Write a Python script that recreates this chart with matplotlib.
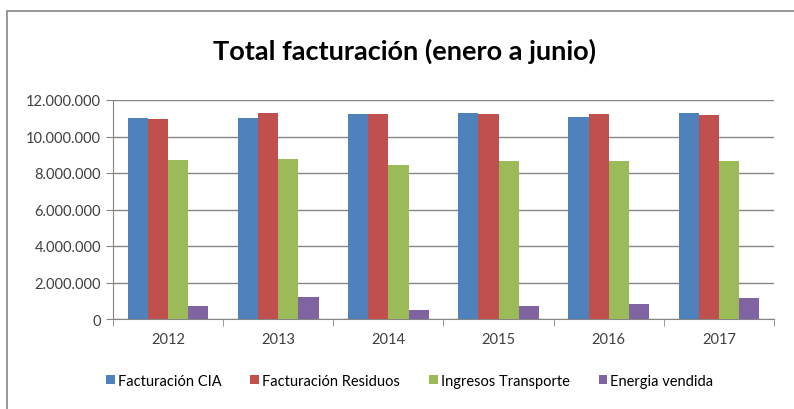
import numpy as np
import matplotlib
matplotlib.use("Agg")
import matplotlib.pyplot as plt
from matplotlib.ticker import FuncFormatter
from matplotlib.patches import Rectangle

# data
years = ["2012", "2013", "2014", "2015", "2016", "2017"]
facturacion_cia = [11030000, 11030000, 11250000, 11300000, 11090000, 11300000]
facturacion_residuos = [10960000, 11300000, 11250000, 11250000, 11250000, 11180000]
ingresos_transporte = [8710000, 8780000, 8420000, 8640000, 8640000, 8640000]
energia_vendida = [710000, 1190000, 490000, 690000, 840000, 1130000]

series = [
    ("Facturación CIA", facturacion_cia, "#4F81BD"),
    ("Facturación Residuos", facturacion_residuos, "#C0504D"),
    ("Ingresos Transporte", ingresos_transporte, "#9BBB59"),
    ("Energia vendida", energia_vendida, "#8064A2"),
]

plt.rcParams['font.family'] = ['Lato', 'DejaVu Sans']

fig = plt.figure(figsize=(7.94, 4.10), dpi=100)
# outer chart frame
fig.patches.append(Rectangle((7 / 794, -0.01), 1.0, 1 - 12 / 410 + 0.01,
                             transform=fig.transFigure, fill=False,
                             edgecolor="#868686", linewidth=1.2))

ax = fig.add_axes([113 / 794, 1 - 320 / 410, (774 - 113) / 794, (320 - 101) / 410])

x = np.arange(len(years))
bw = 0.183
for i, (name, vals, col) in enumerate(series):
    ax.bar(x + (i - 1.5) * bw, vals, bw, color=col, label=name, zorder=3)

ax.set_xlim(-0.5, len(years) - 0.5)
ax.set_ylim(0, 12000000)
ax.set_yticks(np.arange(0, 12000001, 2000000))
ax.yaxis.set_major_formatter(FuncFormatter(lambda v, p: f"{int(v):,}".replace(",", ".")))
ax.set_xticks(x)
ax.set_xticklabels(years)
ax.set_xticks(np.arange(-0.5, len(years)), minor=True)
ax.tick_params(axis="x", which="major", length=0, pad=9, labelsize=10.5, colors="#404040")
ax.tick_params(axis="x", which="minor", length=5, color="#868686")
ax.tick_params(axis="y", length=5, color="#868686", labelsize=10.5, labelcolor="#404040")
ax.grid(axis="y", color="#868686", linewidth=1, zorder=0)
for s in ["top", "right"]:
    ax.spines[s].set_visible(False)
for s in ["left", "bottom"]:
    ax.spines[s].set_color("#868686")

fig.text(0.51, 1 - 51 / 410, "Total facturación (enero a junio)", ha="center", va="center",
         fontsize=19.5, fontweight="bold")

fig.legend(loc="center", bbox_to_anchor=(0.516, 1 - 382 / 410), ncol=4, frameon=False,
           fontsize=10.5, handlelength=0.6, handleheight=0.6, handletextpad=0.2,
           columnspacing=2.0)

fig.savefig("out.png", dpi=100)
